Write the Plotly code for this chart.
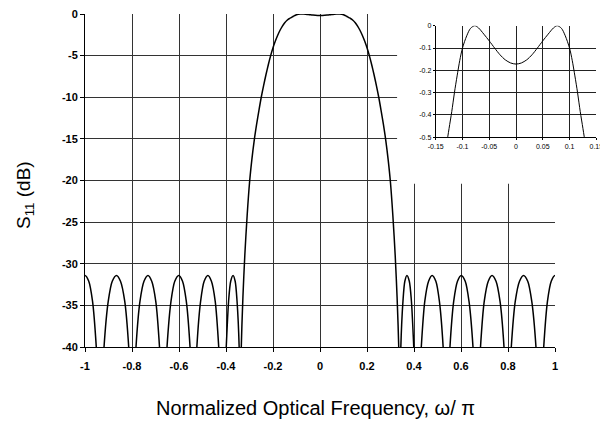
import plotly.graph_objects as go

# ---- data ----
freq = [
    -1.016, -1.000, -0.984, -0.968, -0.952, -0.935,
    -0.919, -0.901, -0.884, -0.866, -0.849, -0.831, -0.814, -0.798,
    -0.783, -0.766, -0.749, -0.732, -0.716, -0.699, -0.683, -0.667,
    -0.651, -0.634, -0.618, -0.601, -0.585, -0.569, -0.553, -0.538,
    -0.524, -0.508, -0.493, -0.477, -0.462, -0.446, -0.431, -0.415,
    -0.399, -0.389, -0.380, -0.370, -0.361, -0.353, -0.344, -0.340,
    -0.335, -0.328, -0.320, -0.310, -0.300, -0.290, -0.280, -0.270,
    -0.260, -0.250, -0.240, -0.230, -0.220, -0.210, -0.200, -0.190,
    -0.180, -0.170, -0.160, -0.150, -0.140, -0.130, -0.125, -0.120,
    -0.115, -0.110, -0.105, -0.100, -0.092, -0.085, -0.077, -0.070,
    -0.060, -0.050, -0.040, -0.030, -0.020, -0.010,
    0.000,
    0.010, 0.020, 0.030, 0.040, 0.050, 0.060, 0.070, 0.077,
    0.085, 0.092, 0.100, 0.105, 0.110, 0.115, 0.120, 0.125,
    0.130, 0.140, 0.150, 0.160, 0.170, 0.180, 0.190, 0.200,
    0.210, 0.220, 0.230, 0.240, 0.250, 0.260, 0.270, 0.280,
    0.290, 0.300, 0.310, 0.320, 0.328, 0.335, 0.340,
    0.344, 0.353, 0.361, 0.370, 0.380, 0.389, 0.399, 0.415,
    0.431, 0.446, 0.462, 0.477, 0.493, 0.508, 0.524, 0.538,
    0.553, 0.569, 0.585, 0.601, 0.618, 0.634, 0.651, 0.667,
    0.683, 0.699, 0.716, 0.732, 0.749, 0.766, 0.783, 0.798,
    0.814, 0.831, 0.849, 0.866, 0.884, 0.901, 0.919, 0.935,
    0.952, 0.968, 0.984, 1.000, 1.016,
]
s11_db = [
    -32.1, -31.4, -32.1, -34.5, -40.0, -50.0,
    -40.0, -34.5, -32.1, -31.4, -32.1, -34.5, -40.0, -50.0,
    -40.0, -34.5, -32.1, -31.4, -32.1, -34.5, -40.0, -50.0,
    -40.0, -34.5, -32.1, -31.4, -32.1, -34.5, -40.0, -50.0,
    -40.0, -34.5, -32.1, -31.4, -32.1, -34.5, -40.0, -50.0,
    -40.0, -34.5, -32.1, -31.4, -32.1, -34.5, -40.0, -50.0,
    -40.0, -34.0, -29.0, -24.2, -20.3, -17.5, -15.2, -13.3,
    -11.6, -10.0, -8.6, -7.3, -6.1, -5.0, -4.05, -3.25,
    -2.55, -1.95, -1.45, -1.05, -0.75, -0.54, -0.46, -0.385,
    -0.30, -0.225, -0.155, -0.100, -0.045, -0.012, 0.000, -0.010,
    -0.038, -0.068, -0.100, -0.130, -0.153, -0.167,
    -0.172,
    -0.167, -0.153, -0.130, -0.100, -0.068, -0.038, -0.010, 0.000,
    -0.012, -0.045, -0.100, -0.155, -0.225, -0.30, -0.385, -0.46,
    -0.54, -0.75, -1.05, -1.45, -1.95, -2.55, -3.25, -4.05,
    -5.0, -6.1, -7.3, -8.6, -10.0, -11.6, -13.3, -15.2,
    -17.5, -20.3, -24.2, -29.0, -34.0, -40.0, -50.0,
    -40.0, -34.5, -32.1, -31.4, -32.1, -34.5, -40.0, -50.0,
    -40.0, -34.5, -32.1, -31.4, -32.1, -34.5, -40.0, -50.0,
    -40.0, -34.5, -32.1, -31.4, -32.1, -34.5, -40.0, -50.0,
    -40.0, -34.5, -32.1, -31.4, -32.1, -34.5, -40.0, -50.0,
    -40.0, -34.5, -32.1, -31.4, -32.1, -34.5, -40.0, -50.0,
    -40.0, -34.5, -32.1, -31.4, -32.1,
]

x_ticks = [-1, -0.8, -0.6, -0.4, -0.2, 0, 0.2, 0.4, 0.6, 0.8, 1]
x_labels = ["-1", "-0.8", "-0.6", "-0.4", "-0.2", "0", "0.2", "0.4", "0.6", "0.8", "1"]
y_ticks = [0, -5, -10, -15, -20, -25, -30, -35, -40]
y_labels = ["0", "-5", "-10", "-15", "-20", "-25", "-30", "-35", "-40"]

inset_x_ticks = [-0.15, -0.1, -0.05, 0, 0.05, 0.1, 0.15]
inset_x_labels = ["-0.15", "-0.1", "-0.05", "0", "0.05", "0.1", "0.15"]
inset_y_ticks = [0, -0.1, -0.2, -0.3, -0.4, -0.5]
inset_y_labels = ["0", "-0.1", "-0.2", "-0.3", "-0.4", "-0.5"]

x_title = "Normalized Optical Frequency, ω/ π"
y_title = "S<sub>11</sub> (dB)"

W, H = 600, 421
FONT = "Liberation Sans, Arial, sans-serif"
GRID = "#333333"

fig = go.Figure()
fig.add_trace(go.Scatter(x=freq, y=s11_db, mode="lines",
                         line=dict(color="black", width=1.5, shape="spline", smoothing=0.8),
                         xaxis="x", yaxis="y", showlegend=False, hoverinfo="skip"))
fig.add_trace(go.Scatter(x=freq, y=s11_db, mode="lines",
                         line=dict(color="black", width=1, shape="spline", smoothing=0.8),
                         xaxis="x2", yaxis="y2", showlegend=False, hoverinfo="skip"))

def px_x(p):
    return p / W

def px_y(p):
    return 1 - p / H

common = dict(showline=True, linecolor="black", linewidth=1, zeroline=False,
              automargin=False, showgrid=True, gridwidth=1, tickcolor="black",
              ticks="outside")

fig.update_layout(
    template="none",
    width=W, height=H,
    margin=dict(l=0, r=0, t=0, b=0, pad=0),
    paper_bgcolor="white", plot_bgcolor="white",
    font=dict(family=FONT, color="black"),
    xaxis=dict(domain=[px_x(85), px_x(555)], range=[-1, 1],
               tickvals=x_ticks, ticktext=x_labels, ticklen=4,
               tickfont=dict(size=11, weight="bold"), ticklabelstandoff=5,
               gridcolor=GRID, anchor="y", **common),
    yaxis=dict(domain=[px_y(347), px_y(14)], range=[-40, 0],
               tickvals=y_ticks, ticktext=y_labels, ticklen=4,
               tickfont=dict(size=11, weight="bold"),
               gridcolor=GRID, anchor="x", **common),
    xaxis2=dict(domain=[px_x(435.7), px_x(596.3)], range=[-0.15, 0.15],
                tickvals=inset_x_ticks, ticktext=inset_x_labels, ticklen=2,
                tickfont=dict(size=7), ticklabeloverflow="allow",
                gridcolor="#222", anchor="y2", **common),
    yaxis2=dict(domain=[px_y(137.3), px_y(25.7)], range=[-0.5, 0],
                tickvals=inset_y_ticks, ticktext=inset_y_labels, ticklen=2,
                tickfont=dict(size=7),
                gridcolor="#222", anchor="x2", **common),
    shapes=[dict(type="rect", xref="x", yref="y", x0=0.328, x1=1.2, y0=-20.4, y1=2,
                 fillcolor="white", line=dict(width=0), layer="between")],
    annotations=[
        dict(text=y_title, xref="paper", yref="paper", x=px_x(25), y=px_y(195),
             textangle=-90, showarrow=False, xanchor="center", yanchor="middle",
             font=dict(size=19, family=FONT)),
        dict(text=x_title, xref="paper", yref="paper", x=px_x(316), y=px_y(408),
             showarrow=False, xanchor="center", yanchor="middle",
             font=dict(size=20, family=FONT)),
    ],
)

fig.write_html("out.html")
